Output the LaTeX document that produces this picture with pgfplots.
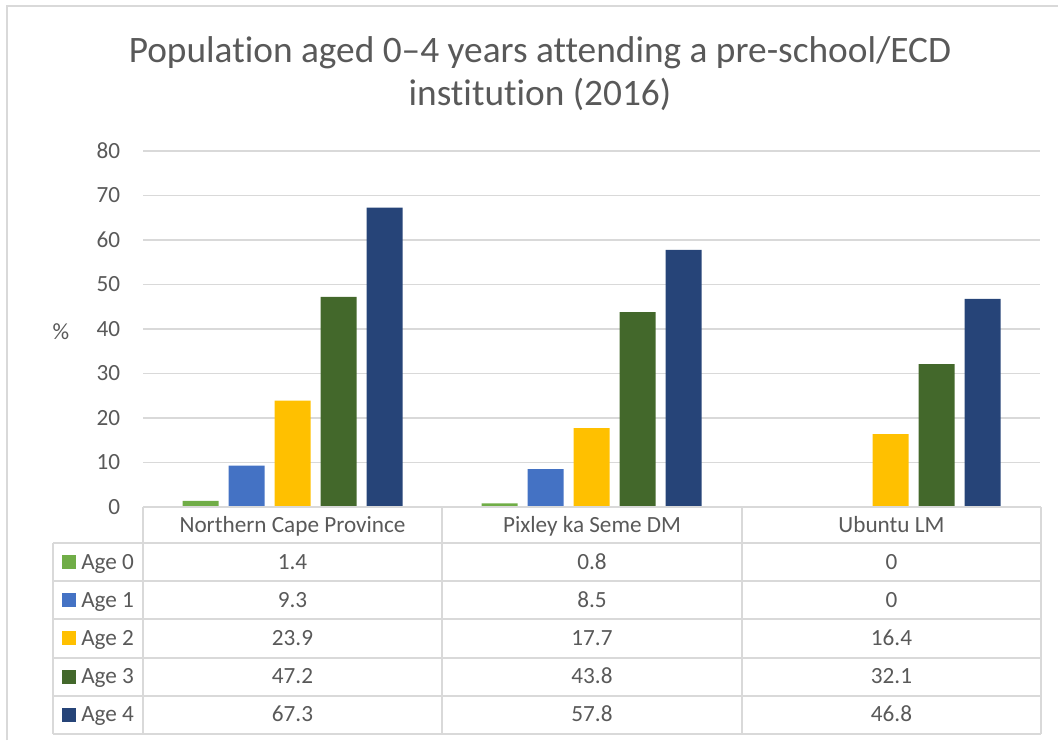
\documentclass[border=0pt]{standalone}
\usepackage{pgfplots}
\usepackage{pgfplotstable}
\pgfplotsset{compat=1.18}
\usepackage{fontspec}
\setmainfont{Carlito}[Ligatures={NoCommon}]

\definecolor{txt}{RGB}{89,89,89}
\definecolor{gridc}{RGB}{217,217,217}
\definecolor{age0}{RGB}{112,173,71}
\definecolor{age1}{RGB}{68,114,196}
\definecolor{age2}{RGB}{255,192,0}
\definecolor{age3}{RGB}{67,104,43}
\definecolor{age4}{RGB}{38,68,120}

\pgfplotstableread{
cat a0 a1 a2 a3 a4
0 1.4 9.3 23.9 47.2 67.3
1 0.8 8.5 17.7 43.8 57.8
2 0 0 16.4 32.1 46.8
}\datatable

\newcommand{\lblfont}{\fontsize{17.4}{20}\selectfont}

\begin{document}
\begin{tikzpicture}
% pixel grid of the reference: 1 px = 0.75pt, y going down
\begin{scope}[x=0.75pt,y=-0.75pt]
  \useasboundingbox (0,0) rectangle (1058,740);
  \draw[gridc, line width=1.1pt] (7,740) -- (7,6) -- (1058,6);
  \node[txt, font=\fontsize{28}{32}\selectfont, anchor=base] at (540,62) {Population aged 0--4 years attending a pre-school/ECD};
  \node[txt, font=\fontsize{28}{32}\selectfont, anchor=base] at (540,105) {institution (2016)};
  \node[txt, font=\lblfont, anchor=base] at (61,339) {\%};
\end{scope}

\begin{axis}[
    at={({143*0.75pt},{-507*0.75pt})}, anchor=south west,
    scale only axis,
    width=672.75pt, height=267pt,
    xmin=-0.5, xmax=2.5,
    ymin=0, ymax=80,
    ytick={0,10,...,80},
    xtick=\empty,
    ymajorgrids,
    grid style={gridc, line width=1.1pt},
    axis line style={draw=none},
    major tick length=0pt,
    ybar=7.5pt, bar width=27pt,
    /pgf/number format/assume math mode=true,
    yticklabel style={txt, font=\lblfont, inner sep=0pt, xshift=-17pt},
  ]
  \addplot[fill=age0, draw=none] table[x=cat, y=a0] {\datatable};
  \addplot[fill=age1, draw=none] table[x=cat, y=a1] {\datatable};
  \addplot[fill=age2, draw=none] table[x=cat, y=a2] {\datatable};
  \addplot[fill=age3, draw=none] table[x=cat, y=a3] {\datatable};
  \addplot[fill=age4, draw=none] table[x=cat, y=a4] {\datatable};
\end{axis}

% data table under the chart
\begin{scope}[x=0.75pt,y=-0.75pt]
  \draw[gridc, line width=1.1pt] (143,507) -- (1041,507);
  \foreach \yy in {543,581,619,658,696,734} \draw[gridc, line width=1.1pt] (53,\yy) -- (1041,\yy);
  \draw[gridc, line width=1.1pt] (53,543) -- (53,734);
  \foreach \xx in {143,442,742,1041} \draw[gridc, line width=1.1pt] (\xx,507) -- (\xx,734);
  \foreach \name/\cx in {Northern Cape Province/292.5, Pixley ka Seme DM/592, Ubuntu LM/891.5}
    \node[txt, font=\lblfont, anchor=base] at (\cx,532) {\name};
  \foreach \k in {0,...,4} {
    \fill[age\k] (62,{555+38.2*\k}) rectangle (76,{569+38.2*\k});
    \node[txt, font=\lblfont, anchor=base west, inner sep=0pt] at (81,{569+38.2*\k}) {Age \k};
  }
  \foreach \r/\cx in {0/292.5,1/592,2/891.5} {
    \foreach \k in {0,...,4} {
      \pgfplotstablegetelem{\r}{a\k}\of\datatable
      \node[txt, font=\lblfont, anchor=base] at (\cx,{569+38.2*\k}) {\pgfplotsretval};
    }
  }
\end{scope}
\end{tikzpicture}
\end{document}
